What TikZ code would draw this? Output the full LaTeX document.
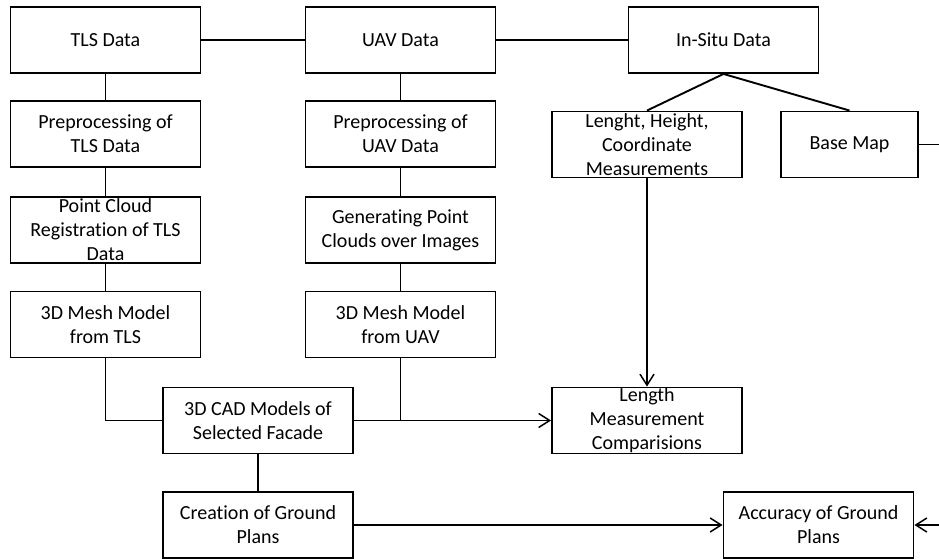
\documentclass[tikz,border=0pt]{standalone}
\usepackage{fontspec}
\setmainfont{Carlito}[Ligatures=NoCommon]
\usetikzlibrary{arrows.meta}
\begin{document}
\begin{tikzpicture}[x=1pt,y=-1pt,
  box/.style={draw=black,line width=1.9pt,minimum width=190pt,minimum height=66pt,
    inner sep=0pt,align=center,font=\fontsize{20}{24}\selectfont},
  conn/.style={draw=black,line width=1.9pt},
  arr/.style={conn,-{Straight Barb[length=11pt,width=14pt,line width=1.5pt]}}]
\useasboundingbox (0,0) rectangle (939,559);
\node[box] (tls) at (105.5,40) {TLS Data};
\node[box] (uav) at (400.5,40) {UAV Data};
\node[box] (insitu) at (723.5,40) {In-Situ Data};
\node[box] (pretls) at (105.5,134) {Preprocessing of\\TLS Data};
\node[box] (preuav) at (400.5,134) {Preprocessing of\\UAV Data};
\node[box] (lenght) at (647,144.5) {Lenght, Height,\\Coordinate\\Measurements};
\node[box,minimum width=137pt] (basemap) at (849.5,144.5) {Base Map};
\node[box] (pcreg) at (105.5,230) {Point Cloud\\Registration of TLS\\Data};
\node[box] (gen) at (400.5,230) {Generating Point\\Clouds over Images};
\node[box] (meshtls) at (105.5,324.5) {3D Mesh Model\\from TLS};
\node[box] (meshuav) at (400.5,324.5) {3D Mesh Model\\from UAV};
\node[box] (cad) at (258,420.5) {3D CAD Models of\\Selected Facade};
\node[box] (lenmeas) at (647,420.5) {Length\\Measurement\\Comparisions};
\node[box] (creation) at (258,525) {Creation of Ground\\Plans};
\node[box] (accuracy) at (818.5,525) {Accuracy of Ground\\Plans};
\coordinate (edgeA) at (939,144.5);
\coordinate (edgeB) at (939,525);
\draw[conn] (tls) -- (uav);
\draw[conn] (uav) -- (insitu);
\draw[conn] (tls) -- (pretls);
\draw[conn] (pretls) -- (pcreg);
\draw[conn] (pcreg) -- (meshtls);
\draw[conn] (uav) -- (preuav);
\draw[conn] (preuav) -- (gen);
\draw[conn] (gen) -- (meshuav);
\draw[conn] (insitu.south) -- (lenght.north);
\draw[conn] (insitu.south) -- (basemap.north);
\draw[conn] (basemap.east) -- (edgeA);
\draw[arr] (edgeB) -- (accuracy.east);
\draw[arr] (lenght) -- (lenmeas);
\draw[conn] (meshtls.south) |- (cad.west);
\draw[conn] (meshuav.south) |- (cad.east);
\draw[arr] (cad.east) -- (lenmeas.west);
\draw[conn] (cad) -- (creation);
\draw[arr] (creation) -- (accuracy);
\end{tikzpicture}
\end{document}
